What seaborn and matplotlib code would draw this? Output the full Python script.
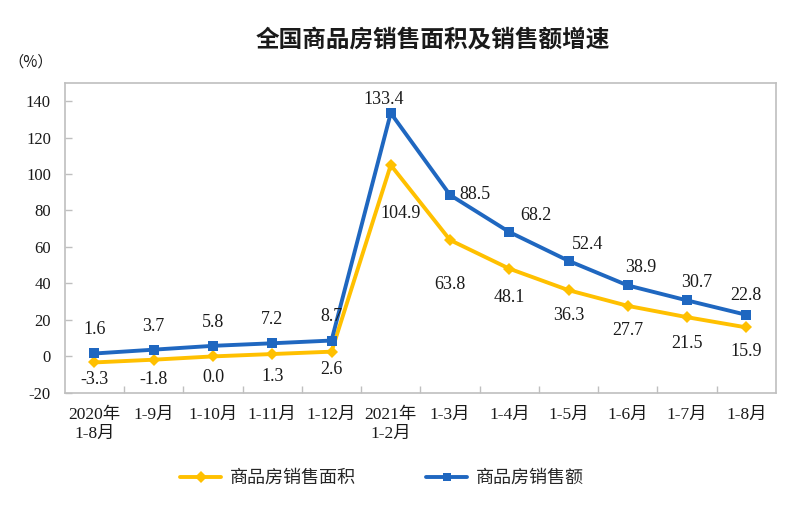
import matplotlib
matplotlib.use("Agg")
import matplotlib.pyplot as plt
import seaborn as sns
import pandas as pd
import numpy as np
from matplotlib.lines import Line2D

categories = ["2020年\n1-8月", "1-9月", "1-10月", "1-11月", "1-12月", "2021年\n1-2月",
              "1-3月", "1-4月", "1-5月", "1-6月", "1-7月", "1-8月"]
sales_amount = [1.6, 3.7, 5.8, 7.2, 8.7, 133.4, 88.5, 68.2, 52.4, 38.9, 30.7, 22.8]
sales_area = [-3.3, -1.8, 0.0, 1.3, 2.6, 104.9, 63.8, 48.1, 36.3, 27.7, 21.5, 15.9]
series_area = "商品房销售面积"
series_amount = "商品房销售额"
title = "全国商品房销售面积及销售额增速"
yticks = [-20, 0, 20, 40, 60, 80, 100, 120, 140]

# label offsets in points (dx, dy)
amount_offsets = [(0, 17), (0, 17), (0, 17), (0, 17), (0, 17), (-5, 10), (18, 0),
                  (19, 12), (14, 12), (9, 13), (7, 13), (0, 14)]
area_offsets = [(0, -12), (0, -14), (0, -15), (0, -16), (0, -13), (7, -35), (0, -32),
                (0, -21), (0, -18), (0, -18), (0, -19), (0, -17)]

sns.set_theme(style="white")
plt.rcParams["font.family"] = ["Liberation Serif", "Noto Sans CJK SC", "DejaVu Sans"]

YELLOW = "#FFC000"
BLUE = "#1F67C0"
TEXT = "#1a1a1a"

df = pd.DataFrame({
    "x": list(range(len(categories))) * 2,
    "value": sales_area + sales_amount,
    "series": [series_area] * len(categories) + [series_amount] * len(categories),
})

fig = plt.figure(figsize=(8, 5.05), dpi=100)
ax = fig.add_axes([0.081, 0.222, 0.889, 0.614])

sns.lineplot(data=df, x="x", y="value", hue="series", style="series",
             palette={series_area: YELLOW, series_amount: BLUE},
             markers={series_area: "D", series_amount: "s"},
             dashes=False, linewidth=2.8, markersize=6.5, markeredgewidth=0,
             sort=False, ax=ax, legend=False)

ax.set_xlim(-0.5, len(categories) - 0.5)
ax.set_ylim(-20, 150)
ax.set_yticks(yticks)
ax.set_yticklabels([str(v) for v in yticks], fontsize=12, color=TEXT)
ax.set_xticks(range(len(categories)))
ax.set_xticklabels(categories, fontsize=12.5, color=TEXT, linespacing=1.25)
ax.set_xticks(np.arange(0.5, len(categories) - 1, 1.0), minor=True)
ax.tick_params(axis="x", which="major", length=0, pad=10)
ax.tick_params(axis="x", which="minor", direction="in", length=5, color="#BFBFBF", width=1, bottom=True)
ax.tick_params(axis="y", direction="in", length=5, color="#BFBFBF", width=1, left=True, pad=10)
ax.set_xlabel("")
ax.set_ylabel("")
for s in ax.spines.values():
    s.set_color("#BFBFBF")
    s.set_linewidth(1.2)

for i, v in enumerate(sales_amount):
    dx, dy = amount_offsets[i]
    ax.annotate(f"{v:.1f}", (i, v), xytext=(dx, dy), textcoords="offset points",
                ha="center", va="center", fontsize=13, color=TEXT)
for i, v in enumerate(sales_area):
    dx, dy = area_offsets[i]
    ax.annotate(f"{v:.1f}", (i, v), xytext=(dx, dy), textcoords="offset points",
                ha="center", va="center", fontsize=13, color=TEXT)

fig.text(0.541, 0.921, title, ha="center", va="center", fontsize=17,
         fontweight="bold", family=["Noto Sans CJK SC"], color="#1a1a1a")
fig.text(0.038, 0.877, "（%）", ha="center", va="center", fontsize=11,
         family=["Noto Sans CJK SC"], color=TEXT)

handles = [Line2D([], [], color=YELLOW, lw=2.8, marker="D", markersize=6, markeredgewidth=0),
           Line2D([], [], color=BLUE, lw=2.8, marker="s", markersize=5.5, markeredgewidth=0)]
fig.legend(handles, [series_area, series_amount], loc="center", bbox_to_anchor=(0.477, 0.053),
           ncol=2, frameon=False, handlelength=2.3, columnspacing=3.9,
           handletextpad=0.45, prop={"family": ["Noto Sans CJK SC"], "size": 13})

fig.savefig("out.png", dpi=100)
